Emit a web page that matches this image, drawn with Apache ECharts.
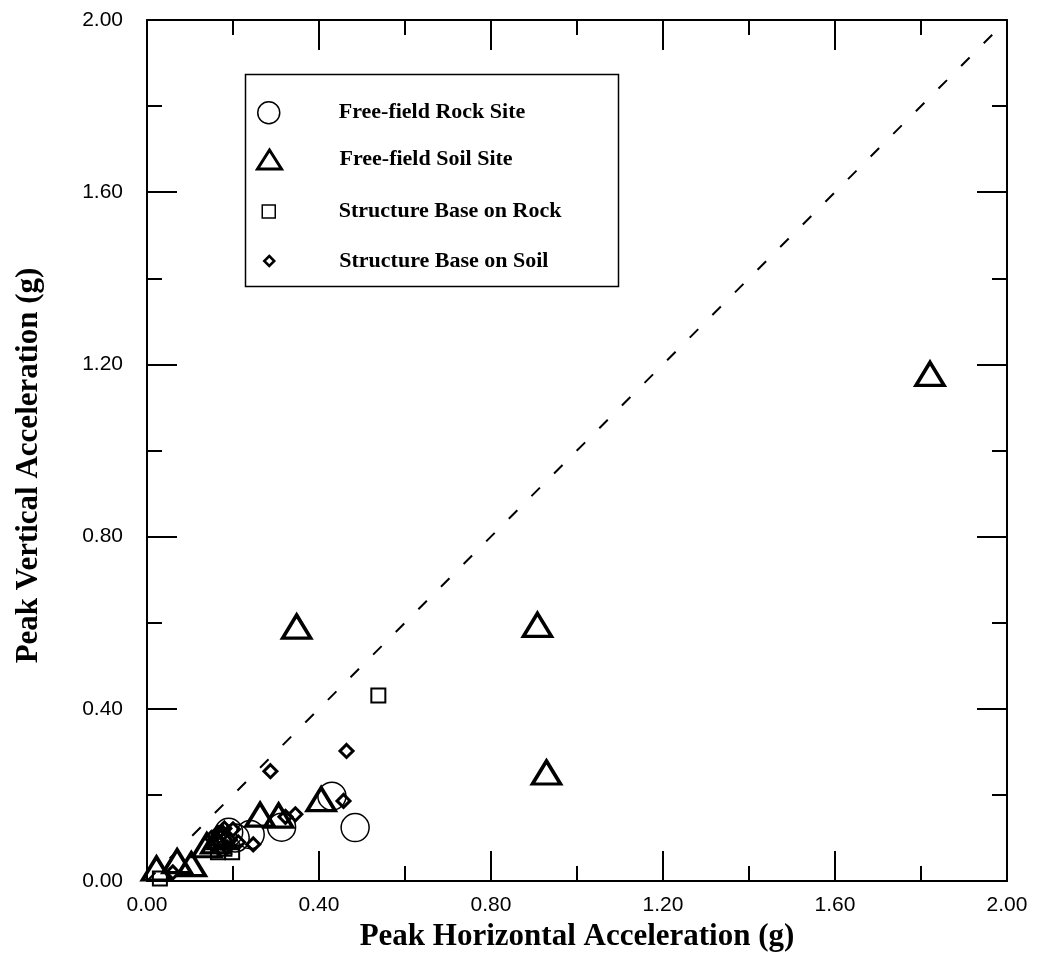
<!DOCTYPE html>
<html>
<head>
<meta charset="utf-8">
<script src="https://cdn.jsdelivr.net/npm/echarts@6/dist/echarts.min.js"></script>
<style>
html,body{margin:0;padding:0;background:#fff;}
#chart{width:1041px;height:966px;}
</style>
</head>
<body>
<div id="chart"></div>
<script>
// ---- data (Peak Horizontal g, Peak Vertical g) ----
const rockSite = [
  [0.484, 0.124], [0.430, 0.197], [0.313, 0.125], [0.240, 0.108],
  [0.190, 0.113], [0.205, 0.100]
];
const soilSite = [
  [1.821, 1.178], [0.348, 0.591], [0.908, 0.595], [0.929, 0.252],
  [0.405, 0.190], [0.263, 0.154], [0.306, 0.152], [0.139, 0.083],
  [0.160, 0.092], [0.175, 0.102], [0.103, 0.039], [0.070, 0.046],
  [0.022, 0.029]
];
const baseRock = [
  [0.538, 0.431], [0.165, 0.067], [0.198, 0.067], [0.180, 0.075],
  [0.030, 0.006]
];
const baseSoil = [
  [0.464, 0.302], [0.287, 0.255], [0.457, 0.186], [0.345, 0.155],
  [0.322, 0.149], [0.247, 0.085], [0.150, 0.100], [0.165, 0.112],
  [0.180, 0.122], [0.170, 0.090], [0.192, 0.095], [0.200, 0.120],
  [0.186, 0.078], [0.212, 0.090], [0.155, 0.085], [0.060, 0.020]
];
const diagonal = [[0, 0], [2, 2]];
const seriesNames = ['Free-field Rock Site', 'Free-field Soil Site', 'Structure Base on Rock', 'Structure Base on Soil'];
const tickLabels = ['0.00', '0.40', '0.80', '1.20', '1.60', '2.00'];
const xTitle = 'Peak Horizontal Acceleration (g)';
const yTitle = 'Peak Vertical Acceleration (g)';

const chart = echarts.init(document.getElementById('chart'));
const black = '#000';
const hollow = 'rgba(0,0,0,0)';

function axisBase(pos, showLabels) {
  return {
    type: 'value', min: 0, max: 2, interval: 0.4, position: pos,
    axisLine: { show: true, onZero: false, lineStyle: { color: black, width: 2 } },
    axisTick: { show: true, inside: true, length: 30, lineStyle: { color: black, width: 2 } },
    minorTick: { show: true, splitNumber: 2, length: 15, lineStyle: { color: black, width: 2 } },
    splitLine: { show: false },
    minorSplitLine: { show: false },
    axisLabel: {
      show: showLabels,
      formatter: v => tickLabels[Math.round(v / 0.4)] || v.toFixed(2),
      color: black, fontFamily: 'Liberation Sans', fontSize: 21
    }
  };
}

const titleStyle = { fontFamily: 'Liberation Serif', fontWeight: 'bold', fontSize: 31, color: black };
const xBottom = Object.assign(axisBase('bottom', true), {
  name: xTitle, nameLocation: 'middle', nameGap: 40, nameTextStyle: titleStyle
});
xBottom.axisLabel.margin = 14;
const xTop = axisBase('top', false);
const yLeft = Object.assign(axisBase('left', true), {
  name: yTitle, nameLocation: 'middle', nameGap: 103,
  nameTextStyle: Object.assign({}, titleStyle, { padding: [0, 30, 0, 0] })
});
yLeft.axisLabel.margin = 24;
const yRight = axisBase('right', false);

const legendRows = [
  { name: seriesNames[0], icon: 'circle', w: 22, h: 22, bw: 1.5, y: 112 },
  { name: seriesNames[1], icon: 'triangle', w: 24, h: 19, bw: 3, y: 158 },
  { name: seriesNames[2], icon: 'rect', w: 13, h: 13, bw: 1.5, y: 207 },
  { name: seriesNames[3], icon: 'diamond', w: 10, h: 10, bw: 2.5, y: 255 }
];
const legends = legendRows.map(r => ({
  data: [{ name: r.name, icon: r.icon }],
  left: 268 - r.w / 2, top: r.y - r.h / 2,
  padding: 0,
  itemWidth: r.w, itemHeight: r.h,
  selectedMode: false,
  itemStyle: { color: hollow, borderColor: black, borderWidth: r.bw },
  textStyle: {
    fontFamily: 'Liberation Serif', fontWeight: 'bold', fontSize: 22, color: black,
    padding: [0, 0, 0, 65 - r.w / 2]
  }
}));

function scatter(name, data, symbol, size, bw) {
  return {
    name, type: 'scatter', data, symbol, symbolSize: size,
    xAxisIndex: 0, yAxisIndex: 0,
    itemStyle: { color: hollow, borderColor: black, borderWidth: bw, opacity: 1 },
    emphasis: { disabled: true }, z: 3
  };
}

chart.setOption({
  animation: false,
  backgroundColor: '#fff',
  grid: { left: 147, right: 34, top: 20, bottom: 85, containLabel: false },
  xAxis: [xBottom, xTop],
  yAxis: [yLeft, yRight],
  legend: legends,
  graphic: [{
    type: 'rect', left: 243, top: 72, z: 1,
    shape: { width: 373, height: 212 },
    style: { fill: 'none', stroke: black, lineWidth: 1.5 }
  }],
  series: [
    {
      name: 'diagonal', type: 'line', data: diagonal, symbol: 'none', silent: true,
      lineStyle: { color: black, width: 2, type: [12, 20] }, z: 2
    },
    scatter(seriesNames[0], rockSite, 'circle', 28, 1.5),
    scatter(seriesNames[1], soilSite, 'triangle', [28, 23], 3.5),
    scatter(seriesNames[2], baseRock, 'rect', 14, 2),
    scatter(seriesNames[3], baseSoil, 'diamond', [13, 13], 3)
  ]
});
</script>
</body>
</html>
